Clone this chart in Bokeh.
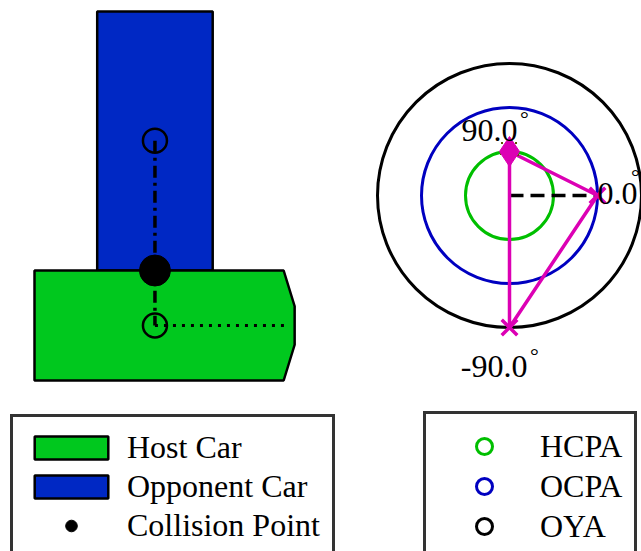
import numpy as np
from bokeh.plotting import figure
from bokeh.models import Range1d, Legend, LegendItem, ColumnDataSource
from bokeh.core.properties import value
from bokeh.embed import file_html
from bokeh.resources import INLINE

# ---------------- data ----------------
# Collision scene (metres; origin = rear centre of host car, x forward, y left)
host_x = [0.0, 0.0, 4.53, 4.73, 4.73, 4.53]
host_y = [-1.0, 1.0, 1.0, 0.35, -0.35, -1.0]
opp_x = [1.14, 1.14, 3.24, 3.24]
opp_y = [1.0, 5.71, 5.71, 1.0]
cg_x = [2.19, 2.19]          # opponent CG, host CG
cg_y = [3.36, 0.0]
collision_x = [2.19]
collision_y = [1.0]
heading_x = [2.19, 4.62]     # host heading line
heading_y = [0.0, 0.0]

# Polar angle chart
angle_names = ["HCPA", "OCPA", "OYA"]
angle_deg = [90.0, 0.0, -90.0]
ring_radius = [1.0, 2.0, 3.0]
ref_angle_deg = [0.0]
ref_length = [2.0]

# ---------------- styles ----------------
GREEN_CAR = "#00c81e"
BLUE_CAR = "#0028c4"
RING_COLORS = ["#00bf00", "#0000c0", "#000000"]
MAGENTA = "#dc00b4"
FONT = "Liberation Serif"

W, H = 641, 551
PX_M = 55.0               # pixels per metre in the scene
ORIGIN = (34.0, 325.0)    # where scene origin sits in the canvas
PX_U = 44.0               # pixels per ring unit in the polar chart
CENTER = (509.0, 195.0)   # polar centre in the canvas

p = figure(width=W, height=H, output_backend="svg", toolbar_location=None,
           x_axis_type=None, y_axis_type=None, min_border=0,
           outline_line_color=None,
           x_range=Range1d(-ORIGIN[0] / PX_M, (W - ORIGIN[0]) / PX_M),
           y_range=Range1d(-(H - ORIGIN[1]) / PX_M, ORIGIN[1] / PX_M))
p.grid.visible = False
p.extra_x_ranges = {"px": Range1d(-CENTER[0] / PX_U, (W - CENTER[0]) / PX_U)}
p.extra_y_ranges = {"py": Range1d(-(H - CENTER[1]) / PX_U, CENTER[1] / PX_U)}

# ---- scene ----
opp = p.patch(opp_x, opp_y, fill_color=BLUE_CAR, line_color="black", line_width=2.5)
host = p.patch(host_x, host_y, fill_color=GREEN_CAR, line_color="black", line_width=2.5)
p.line(cg_x, cg_y, line_color="black", line_width=3.5, line_dash="12 5 3 5")
p.line(heading_x, heading_y, line_color="black", line_width=3, line_dash="3 6")
p.scatter(cg_x, cg_y, marker="circle", size=24, fill_color=None,
          line_color="black", line_width=2.5)
coll = p.scatter(collision_x, collision_y, marker="circle", size=31,
                 fill_color="black", line_color="black")

# ---- polar chart ----
rings = []
for r, c in reversed(list(zip(ring_radius, RING_COLORS))):
    rings.append(p.circle(x=[0], y=[0], radius=[r], fill_color=None, line_color=c,
                          line_width=3, x_range_name="px", y_range_name="py"))
rings = rings[::-1]

th_ref = np.deg2rad(ref_angle_deg[0])
p.line([0, ref_length[0] * np.cos(th_ref)], [0, ref_length[0] * np.sin(th_ref)],
       line_color="black", line_width=3.5, line_dash="14 7",
       x_range_name="px", y_range_name="py")

th = np.deg2rad(angle_deg)
px = np.array(ring_radius) * np.cos(th)
py = np.array(ring_radius) * np.sin(th)
p.line(list(px) + [px[0]], list(py) + [py[0]], line_color=MAGENTA, line_width=3.5,
       x_range_name="px", y_range_name="py")
p.scatter(px[:1], py[:1], marker="square", size=17, fill_color=None,
          line_color="#5a5a00", line_width=2, line_dash="2 12",
          x_range_name="px", y_range_name="py")
p.scatter(px[:1], py[:1], marker="diamond", size=30, fill_color=MAGENTA,
          line_color=MAGENTA, x_range_name="px", y_range_name="py")
p.scatter(px[1:], py[1:], marker="x", size=22, line_color=MAGENTA, line_width=3.5,
          x_range_name="px", y_range_name="py")

lab = ColumnDataSource(dict(
    x=px, y=py,
    text=[f"{a:.1f}" for a in angle_deg],
    dx=[8, 0, 18], dy=[-21, -2, 39],
    align=["right", "left", "right"],
    ddx=[15, 38, 25], ddy=[-33, -19, 28],
))
p.text(x="x", y="y", text="text", source=lab, x_offset="dx", y_offset="dy",
       text_align="align", text_baseline="middle", text_font=value(FONT),
       text_font_size="32px", text_color="black",
       x_range_name="px", y_range_name="py")
p.text(x="x", y="y", text=value("°"), source=lab, x_offset="ddx", y_offset="ddy",
       text_align="center", text_baseline="middle", text_font=value(FONT),
       text_font_size="22px", text_color="black",
       x_range_name="px", y_range_name="py")

# ---- legends ----
common = dict(glyph_width=92, label_standoff=10, padding=12,
              margin=0, border_line_color="#333333", border_line_width=3,
              border_line_alpha=1.0,
              background_fill_color="white", background_fill_alpha=1.0,
              label_text_font=FONT, label_text_font_size="32px",
              label_text_color="black")
leg1 = Legend(items=[LegendItem(label="Host Car", renderers=[host]),
                     LegendItem(label="Opponent Car", renderers=[opp]),
                     LegendItem(label="Collision Point", renderers=[coll])],
              location=(10, -8), glyph_height=29, spacing=2, **common)
leg2 = Legend(items=[LegendItem(label=n, renderers=[r]) for n, r in zip(angle_names, rings)],
              location=(423, -10), glyph_height=40, spacing=0, **common)
p.add_layout(leg1)
p.add_layout(leg2)

open("out.html", "w").write(file_html(p, INLINE))
